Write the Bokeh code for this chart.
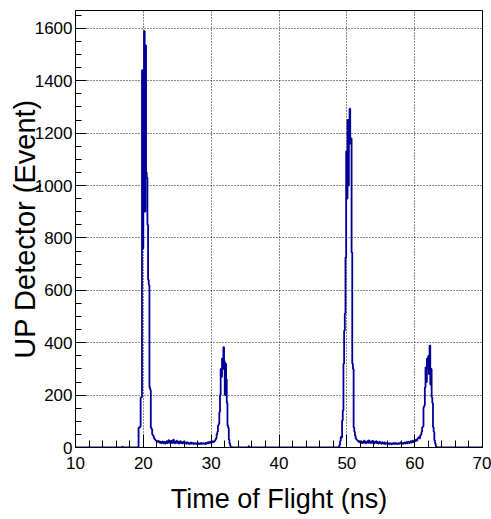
import numpy as np
from bokeh.plotting import figure
from bokeh.models import Range1d, SingleIntervalTicker
from bokeh.embed import file_html
from bokeh.resources import INLINE

# ---- histogram definition (Time of Flight, ns) ----
x_min, x_max, bin_width = 10.0, 70.0, 0.1
y_max = 1668

x_ticks_interval = 10
y_ticks_interval = 200

# counts per 0.1 ns bin, given as stretches starting at a bin's left edge
blip_times = [16.9, 35.5]
blip_counts = [3, 5]

peak1_start = 19.2
peak1_counts = [2, 76, 76, 80, 191, 191, 1440, 760, 1400, 1590, 900, 1535, 1050, 1030,
                850, 640, 620, 229, 220, 76, 70, 50, 46, 40, 33, 30, 27, 25]

bg1_start = 22.0
bg1_counts = [24, 22, 25, 20, 18, 22, 17, 19, 23, 16,
              18, 21, 15, 19, 24, 17, 20, 28, 18, 22,
              19, 25, 17, 21, 30, 18, 23, 16, 20, 26,
              18, 22, 15, 19, 24, 17, 21, 16, 18, 22,
              15, 19, 17, 14, 20, 16, 18, 13, 17, 15,
              19, 14, 16, 18, 13, 15, 17, 14, 16, 12,
              15, 17, 13, 16, 14, 18, 13, 15, 17, 14,
              16, 13, 18, 15, 17, 20, 16, 19, 22, 18,
              21, 24, 20, 23]

peak2_start = 30.4
peak2_counts = [22, 25, 30, 35, 50, 60, 84, 90, 135, 200, 300, 270, 340, 300, 383, 330,
                200, 320, 260, 170, 84, 75, 30, 15, 6, 3, 1, 0]

peak3_start = 48.9
peak3_counts = [10, 25, 40, 38, 103, 141, 320, 446, 511, 726, 1130, 950, 1250, 1000, 1200,
                1293, 1160, 1180, 744, 320, 300, 76, 60, 45, 35, 30]

bg2_start = 51.5
bg2_counts = [28, 25, 22, 24, 20, 19, 23, 17, 21, 18,
              26, 19, 22, 16, 20, 24, 18, 27, 19, 22,
              17, 21, 25, 18, 20, 16, 22, 19, 24, 17,
              20, 15, 19, 22, 16, 18, 14, 20, 17, 15,
              19, 13, 17, 15, 18, 14, 16, 13, 17, 15,
              12, 16, 14, 17, 13, 15, 18, 14, 16, 13,
              15, 17, 14, 16, 19, 15, 17, 14, 18, 16,
              19, 15, 17, 21, 16, 18, 22, 17, 20, 24,
              19, 22, 26, 21, 25, 28, 24, 30, 26, 33, 38]

peak4_start = 60.6
peak4_counts = [40, 35, 45, 50, 60, 77, 80, 154, 160, 230, 306, 250, 340, 300, 350, 280,
                389, 240, 300, 192, 170, 77, 60, 27, 15, 5, 2, 0]

segments = [(peak1_start, peak1_counts), (bg1_start, bg1_counts), (peak2_start, peak2_counts),
            (peak3_start, peak3_counts), (bg2_start, bg2_counts), (peak4_start, peak4_counts)]
segments += [(t, [c]) for t, c in zip(blip_times, blip_counts)]

n_bins = int(round((x_max - x_min) / bin_width))
edges = x_min + bin_width * np.arange(n_bins + 1)
counts = np.zeros(n_bins)
for start, vals in segments:
    i0 = int(round((start - x_min) / bin_width))
    counts[i0:i0 + len(vals)] = vals

FONT = "Liberation Sans"

p = figure(width=491, height=519, output_backend="svg", toolbar_location=None,
           x_range=Range1d(x_min, x_max), y_range=Range1d(0, y_max),
           min_border_left=75, min_border_right=9, min_border_top=10, min_border_bottom=72)
p.background_fill_color = "white"
p.border_fill_color = "white"
p.outline_line_color = "black"
p.outline_line_width = 1
p.outline_line_alpha = 1

p.step(edges, np.append(counts, counts[-1]), mode="after",
       line_color="#000099", line_width=1.8)

p.xaxis.ticker = SingleIntervalTicker(interval=x_ticks_interval, num_minor_ticks=5)
p.yaxis.ticker = SingleIntervalTicker(interval=y_ticks_interval, num_minor_ticks=4)

for ax in (p.xaxis, p.yaxis):
    ax.axis_line_color = "black"
    ax.major_tick_line_color = "black"
    ax.minor_tick_line_color = "black"
    ax.major_tick_out = 0
    ax.minor_tick_out = 0
    ax.major_label_text_font = FONT
    ax.major_label_text_font_size = "17px"
    ax.major_label_text_color = "black"
    ax.axis_label_text_font = FONT
    ax.axis_label_text_font_style = "normal"
    ax.axis_label_text_color = "black"

p.xaxis.major_tick_in = 13
p.xaxis.minor_tick_in = 7
p.yaxis.major_tick_in = 11
p.yaxis.minor_tick_in = 6

p.xaxis.axis_label = "Time of Flight (ns)"
p.xaxis.axis_label_text_font_size = "27px"
p.xaxis.major_label_standoff = 9
p.xaxis.axis_label_standoff = 12

p.yaxis.axis_label = "UP Detector (Event)"
p.yaxis.axis_label_text_font_size = "29px"
p.yaxis.major_label_standoff = 3
p.yaxis.axis_label_standoff = -9

for g in (p.xgrid, p.ygrid):
    g.grid_line_color = "black"
    g.grid_line_dash = "1 2"
    g.grid_line_width = 1
    g.grid_line_alpha = 0.9

open("out.html", "w").write(file_html(p, INLINE))
